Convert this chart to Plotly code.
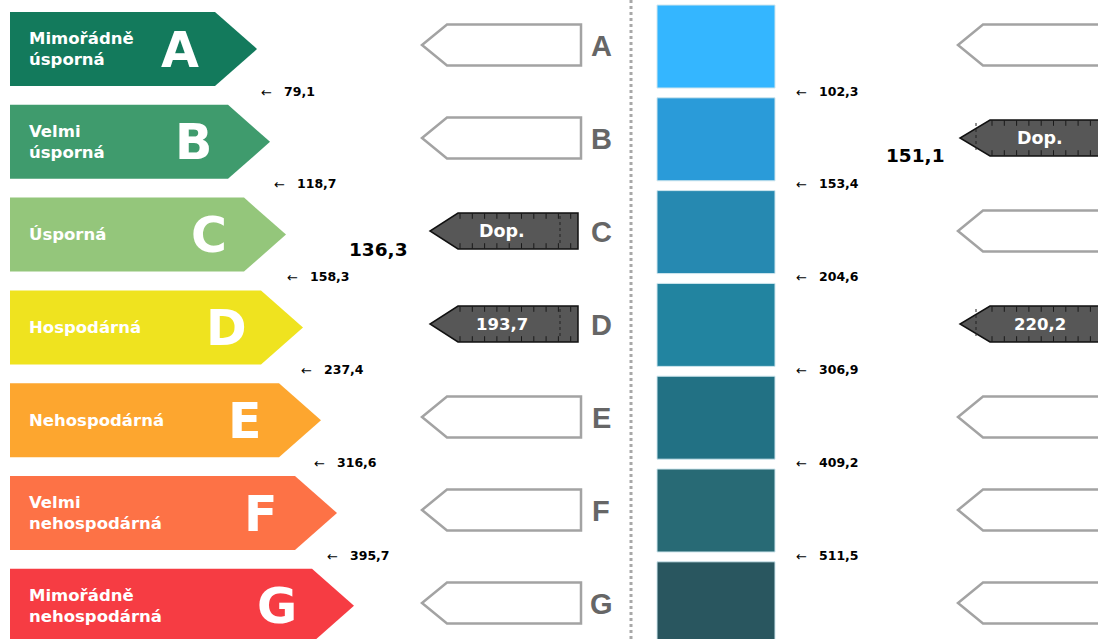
import plotly.graph_objects as go

# ---------------- data ----------------
classes = ["A", "B", "C", "D", "E", "F", "G"]
class_names = ["Mimořádně<br>úsporná", "Velmi<br>úsporná", "Úsporná", "Hospodárná",
               "Nehospodárná", "Velmi<br>nehospodárná", "Mimořádně<br>nehospodárná"]
left_colors = ["#137a5c", "#3f9b6d", "#94c67b", "#efe31f", "#fda62f", "#fd7246", "#f63c43"]
right_colors = ["#34b6ff", "#2a9bd9", "#2689b1", "#2284a0", "#227184", "#286a75", "#29565f"]
left_thresholds = [79.1, 118.7, 158.3, 237.4, 316.6, 395.7]
right_thresholds = [102.3, 153.4, 204.6, 306.9, 409.2, 511.5]
left_value, left_value_class = 136.3, "C"
right_value, right_value_class = 151.1, "B"
left_markers = {"C": "Dop.", "D": "193,7"}
right_markers = {"B": "Dop.", "D": "220,2"}

def fmt(v):
    return f"{v:.1f}".replace(".", ",")

# ---------------- layout constants ----------------
W, H = 1098, 639
ROW = 92.8
fig = go.Figure()
shapes = []
ann = []

LFONT = "Liberation Sans, Arial, sans-serif"
DFONT = "DejaVu Sans, Verdana, sans-serif"
tips = [257, 270, 286, 303, 321, 337, 354]

# left coloured arrows
for i, c in enumerate(classes):
    top = 12 + ROW * i
    bot = top + 74
    mid = (top + bot) / 2
    tip = tips[i]
    body = tip - 42
    shapes.append(dict(type="path", path=f"M 10 {top} L {body} {top} L {tip} {mid} L {body} {bot} L 10 {bot} Z",
                       fillcolor=left_colors[i], line=dict(width=0), layer="below"))
    ann.append(dict(x=27, y=mid, text=f"<b>{class_names[i]}</b>", showarrow=False, xanchor="left",
                    yanchor="middle", align="left", font=dict(family=DFONT, size=16.5, color="white")))
    ann.append(dict(x=tip - 77, y=mid + 1, text=f"<b>{c}</b>", showarrow=False, xanchor="center",
                    yanchor="middle", font=dict(family=DFONT, size=49, color="white")))

# left thresholds
for i, t in enumerate(left_thresholds):
    y = 92 + 92.9 * i
    ax = 259 + 13.2 * i
    ann.append(dict(x=ax, y=y, text="←", showarrow=False, xanchor="left", yanchor="middle",
                    font=dict(family=DFONT, size=13, color="black")))
    ann.append(dict(x=ax + 23, y=y - 1, text=f"<b>{fmt(t)}</b>", showarrow=False, xanchor="left",
                    yanchor="middle", font=dict(family=DFONT, size=12.5, color="black")))

# left value
li = classes.index(left_value_class)
ann.append(dict(x=347, y=12 + ROW * li + 52, text=f"<b>{fmt(left_value)}</b>", showarrow=False,
                xanchor="left", yanchor="middle", font=dict(family=DFONT, size=18.5, color="black")))

tick_x, tick_y = [], []

def outline_arrow(tip, shoulder, right, cy):
    shapes.append(dict(type="path",
                       path=f"M {right} {cy-20.5} L {shoulder} {cy-20.5} L {tip} {cy} L {shoulder} {cy+20.5} L {right} {cy+20.5} Z",
                       fillcolor="white", line=dict(color="#a3a3a3", width=2.5)))

def dark_arrow(tip, shoulder, right, cy, label, tx, dline, fsize):
    shapes.append(dict(type="path", layer="below",
                       path=f"M {right} {cy-18} L {shoulder} {cy-18} L {tip} {cy} L {shoulder} {cy+18} L {right} {cy+18} Z",
                       fillcolor="#575757", line=dict(color="#111111", width=1.5)))
    x = shoulder + 2
    while x < min(right, W) - 4:
        tick_x.extend([x, x])
        tick_y.extend([cy - 15, cy + 15])
        x += 12.3
    shapes.append(dict(type="line", x0=dline, x1=dline, y0=cy - 15, y1=cy + 15,
                       line=dict(color="#222222", width=1, dash="dot")))
    ann.append(dict(x=tx, y=cy, text=f"<b>{label}</b>", showarrow=False, xanchor="center",
                    yanchor="middle", font=dict(family=DFONT, size=fsize, color="white")))

# middle column
for i, c in enumerate(classes):
    cy = 45 + 93 * i
    if c in left_markers:
        lab = left_markers[c]
        dark_arrow(430, 458, 578, cy, lab, 502, 560, 17.5 if lab == "Dop." else 16.5)
    else:
        outline_arrow(422, 447, 581, cy)
    ann.append(dict(x=601, y=cy + 1, text=f"<b>{c}</b>", showarrow=False, xanchor="center",
                    yanchor="middle", font=dict(family=LFONT, size=29, color="#666666")))

# dotted separator
shapes.append(dict(type="line", x0=631, x1=631, y0=0, y1=H,
                   line=dict(color="#a8a8a8", width=3, dash="dot")))

# right rectangles
for i, c in enumerate(classes):
    top = 5 + 92.8 * i
    shapes.append(dict(type="rect", x0=657, x1=775, y0=top, y1=top + 83,
                       fillcolor=right_colors[i], line=dict(color="#cfe6ee", width=1)))

# right thresholds
for i, t in enumerate(right_thresholds):
    y = 92 + 92.8 * i
    ann.append(dict(x=794, y=y, text="←", showarrow=False, xanchor="left", yanchor="middle",
                    font=dict(family=DFONT, size=13, color="black")))
    ann.append(dict(x=817, y=y - 1, text=f"<b>{fmt(t)}</b>", showarrow=False, xanchor="left",
                    yanchor="middle", font=dict(family=DFONT, size=12.5, color="black")))

ri = classes.index(right_value_class)
ann.append(dict(x=884, y=5 + ROW * ri + 58,
                text=f"<b>{fmt(right_value)}</b>", showarrow=False, xanchor="left", yanchor="middle",
                font=dict(family=DFONT, size=18.5, color="black")))

# right arrows
for i, c in enumerate(classes):
    cy = 45 + 93 * i
    if c in right_markers:
        lab = right_markers[c]
        dark_arrow(960, 990, 1120, cy, lab, 1040, 976, 17.5 if lab == "Dop." else 16.5)
    else:
        outline_arrow(958, 983, 1120, cy)

fig.add_trace(go.Scatter(x=tick_x, y=tick_y, mode="markers", hoverinfo="skip",
                         marker=dict(symbol="line-ns", size=4, line=dict(color="#1a1a1a", width=1))))

fig.update_layout(width=W, height=H, margin=dict(l=0, r=0, t=0, b=0), showlegend=False,
                  paper_bgcolor="white", plot_bgcolor="white", shapes=shapes, annotations=ann,
                  xaxis=dict(range=[0, W], visible=False, fixedrange=True),
                  yaxis=dict(range=[H, 0], visible=False, fixedrange=True))
fig.write_html("out.html", config={"displayModeBar": False})
